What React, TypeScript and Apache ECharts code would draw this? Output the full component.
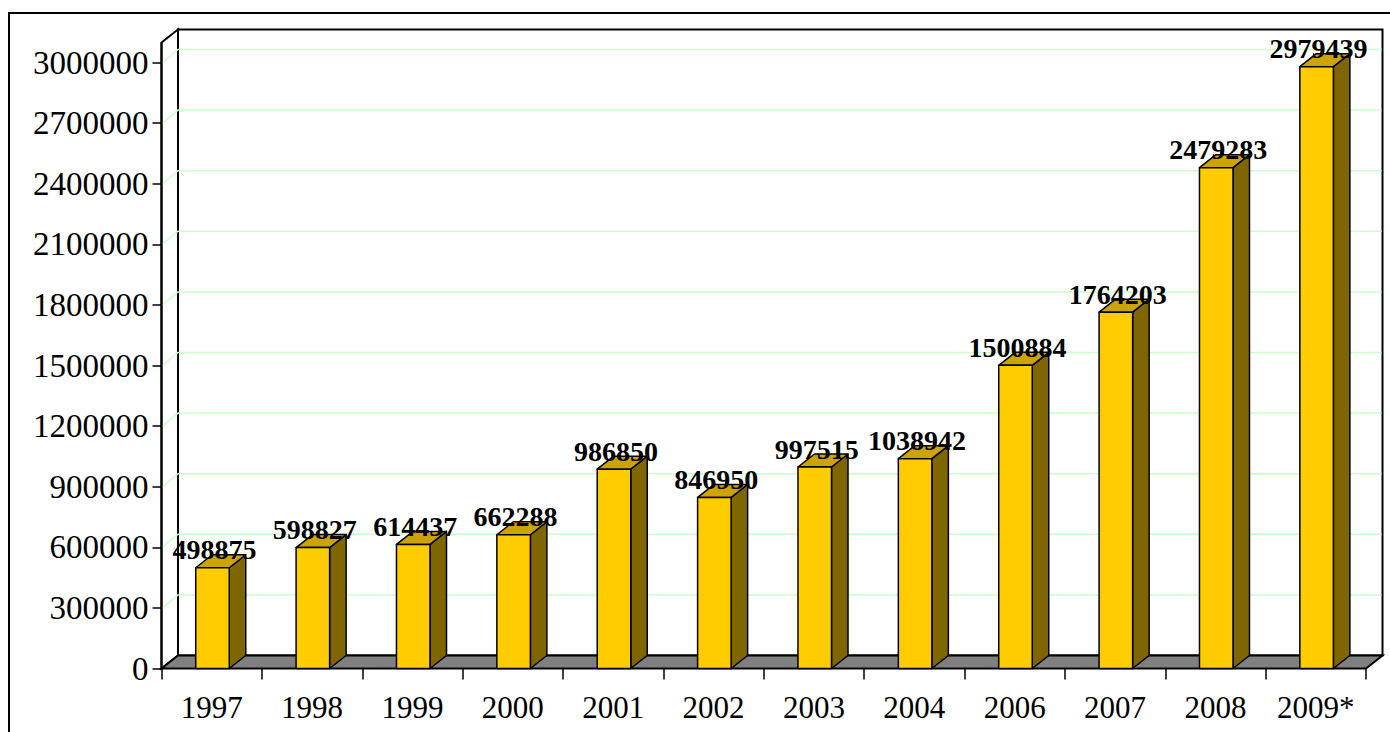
import React, { useEffect, useRef } from "react";
import * as echarts from "echarts";

const categories = ["1997", "1998", "1999", "2000", "2001", "2002", "2003", "2004", "2006", "2007", "2008", "2009*"];
const values = [498875, 598827, 614437, 662288, 986850, 846950, 997515, 1038942, 1500884, 1764203, 2479283, 2979439];
const yTicks = [0, 300000, 600000, 900000, 1200000, 1500000, 1800000, 2100000, 2400000, 2700000, 3000000];

const FONT = "'Times New Roman', 'Liberation Serif', serif";
const DX = 16.5;
const DY = -13;
const WALL_EXTRA = 20;

export default function App() {
  const ref = useRef<HTMLDivElement>(null);
  useEffect(() => {
    if (!ref.current) return;
    const chart = echarts.init(ref.current, null, { renderer: "svg" });
    const option: any = {
      animation: false,
      backgroundColor: "#ffffff",
      graphic: [
        {
          type: "rect",
          z: -10,
          shape: { x: 9, y: 13, width: 1500, height: 900 },
          style: { fill: "none", stroke: "#000", lineWidth: 2 },
        },
      ],
      grid: { left: 161.5, right: 24, top: 62.5, bottom: 63.5, containLabel: false },
      xAxis: {
        type: "category",
        data: categories,
        boundaryGap: true,
        axisLine: { show: false },
        axisTick: { show: true, interval: 0, length: 11, lineStyle: { color: "#000", width: 1.5 } },
        axisLabel: {
          interval: 0,
          fontSize: 31,
          lineHeight: 31,
          fontFamily: FONT,
          color: "#000",
          margin: 23,
        },
        splitLine: { show: false },
      },
      yAxis: {
        type: "value",
        min: 0,
        max: 3000000,
        interval: 300000,
        axisLine: { show: false },
        axisTick: { show: true, length: 9, lineStyle: { color: "#000", width: 1.5 } },
        axisLabel: {
          fontSize: 33,
          fontFamily: FONT,
          color: "#000",
          margin: 13,
          formatter: (v: number) => String(v),
        },
        splitLine: { show: false },
      },
      series: [
        {
          type: "custom",
          name: "frame",
          z: 1,
          silent: true,
          clip: false,
          data: [[0, 0]],
          renderItem: (params: any, api: any) => {
            const cs = params.coordSys;
            const x0 = cs.x;
            const x1 = cs.x + cs.width;
            const y0 = api.coord([0, 0])[1];
            const wallTop = api.coord([0, yTicks[yTicks.length - 1]])[1] - WALL_EXTRA;
            const children: any[] = [];
            children.push({
              type: "polygon",
              shape: {
                points: [
                  [x0 + DX, wallTop + DY],
                  [x1 + DX, wallTop + DY],
                  [x1 + DX, y0 + DY],
                  [x0 + DX, y0 + DY],
                ],
              },
              style: { fill: "#fff", stroke: "#000", lineWidth: 2 },
            });
            children.push({
              type: "polygon",
              shape: {
                points: [
                  [x0, wallTop],
                  [x0 + DX, wallTop + DY],
                  [x0 + DX, y0 + DY],
                  [x0, y0],
                ],
              },
              style: { fill: "#fff", stroke: "#000", lineWidth: 2 },
            });
            yTicks.forEach((v) => {
              if (v === 0) return;
              const y = api.coord([0, v])[1];
              children.push({
                type: "polyline",
                shape: {
                  points: [
                    [x0 + 1, y],
                    [x0 + DX, y + DY],
                    [x1 + DX - 1, y + DY],
                  ],
                },
                style: { fill: "none", stroke: "#ccffcc", lineWidth: 1.5 },
              });
            });
            children.push({
              type: "polygon",
              shape: {
                points: [
                  [x0, y0],
                  [x0 + DX, y0 + DY],
                  [x1 + DX, y0 + DY],
                  [x1, y0],
                ],
              },
              style: { fill: "#808080", stroke: "#000", lineWidth: 2 },
            });
            children.push({
              type: "line",
              shape: { x1: x0, y1: wallTop, x2: x0, y2: y0 },
              style: { stroke: "#000", lineWidth: 2 },
            });
            return { type: "group", children };
          },
        },
        {
          type: "custom",
          name: "bars",
          z: 5,
          clip: false,
          data: values.map((v, i) => [i, v]),
          renderItem: (params: any, api: any) => {
            const idx = api.value(0);
            const val = api.value(1);
            const top = api.coord([idx, val]);
            const base = api.coord([idx, 0]);
            const cw = api.size([1, 0])[0];
            const w = cw * 0.334;
            const cx = top[0] + 0.8;
            const l = cx - w / 2;
            const r = cx + w / 2;
            const ty = top[1];
            const by = base[1];
            const stroke = { stroke: "#000", lineWidth: 1.5, lineJoin: "round" };
            return {
              type: "group",
              children: [
                {
                  type: "polygon",
                  shape: { points: [[r, ty], [r + DX, ty + DY], [r + DX, by + DY], [r, by]] },
                  style: { fill: "#806600", ...stroke },
                },
                {
                  type: "polygon",
                  shape: { points: [[l, ty], [l + DX, ty + DY], [r + DX, ty + DY], [r, ty]] },
                  style: { fill: "#CCA300", ...stroke },
                },
                {
                  type: "rect",
                  shape: { x: l, y: ty, width: w, height: by - ty },
                  style: { fill: "#FFCC00", ...stroke },
                },
                {
                  type: "text",
                  z2: 10,
                  style: {
                    text: String(values[idx]),
                    x: cx + 2,
                    y: ty - 18,
                    align: "center",
                    verticalAlign: "middle",
                    fontSize: 28,
                    fontWeight: "bold",
                    fontFamily: FONT,
                    fill: "#000",
                  },
                },
              ],
            };
          },
        },
      ],
    };
    chart.setOption(option);
    return () => chart.dispose();
  }, []);
  return (
    <div
      ref={ref}
      style={{ position: "fixed", left: 0, top: 0, width: 1390, height: 732, background: "#fff" }}
    />
  );
}
